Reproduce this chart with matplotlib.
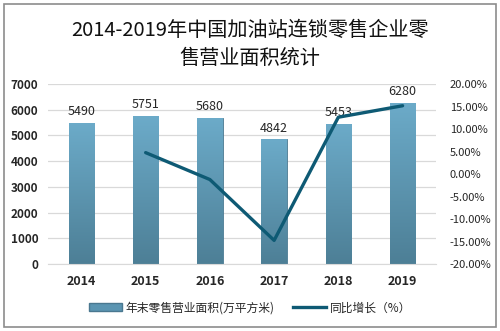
import numpy as np
import matplotlib
matplotlib.use("Agg")
import matplotlib.pyplot as plt
from matplotlib.patches import Rectangle
from matplotlib.lines import Line2D
from matplotlib.colors import LinearSegmentedColormap

plt.rcParams["font.family"] = ["Noto Sans CJK SC", "DejaVu Sans"]

years = ["2014", "2015", "2016", "2017", "2018", "2019"]
area = [5490, 5751, 5680, 4842, 5453, 6280]
growth_years = ["2015", "2016", "2017", "2018", "2019"]
growth = [4.75, -1.23, -14.75, 12.62, 15.17]

bar_label = "年末零售营业面积(万平方米)"
line_label = "同比增长（%）"
title = "2014-2019年中国加油站连锁零售企业零\n售营业面积统计"

bar_top = "#6cabc9"
bar_bottom = "#4d7f96"
line_color = "#0e5a74"
grid_color = "#d9d9d9"
text_color = "#262626"

fig = plt.figure(figsize=(5.0, 3.31), dpi=100)
fig.patch.set_facecolor("white")
fig.add_artist(Rectangle((4 / 500, 4 / 331), 492 / 500, 323 / 331,
                         transform=fig.transFigure, fill=False,
                         edgecolor="#8c8c8c", linewidth=1.2))

ax = fig.add_axes([0.096, 0.2024, 0.776, 0.5438])
x = np.arange(len(years))

# bars with a vertical gradient
cmap = LinearSegmentedColormap.from_list("bar", [bar_bottom, bar_top])
grad = np.linspace(0, 1, 256).reshape(-1, 1)
bars = ax.bar(x, area, width=0.4, color=bar_top, edgecolor="#4a7890",
              linewidth=0.6, zorder=2)
for b in bars:
    x0, w, h = b.get_x(), b.get_width(), b.get_height()
    im = ax.imshow(grad, cmap=cmap, origin="lower", aspect="auto",
                   extent=(x0, x0 + w, 0, h), zorder=2.5)
    im.set_clip_path(b)
    ax.text(x0 + w / 2, h + 180, f"{h:.0f}", ha="center", va="bottom",
            fontsize=9, color=text_color, zorder=4)

ax.set_xlim(-0.52, 5.52)
ax.set_ylim(0, 7000)
ax.set_yticks(range(0, 7001, 1000))
ax.yaxis.grid(True, color=grid_color, linewidth=0.9, zorder=0)
ax.set_axisbelow(True)
ax.set_xticks(x)
ax.set_xticklabels(years, fontweight="bold")
ax.tick_params(axis="x", length=0, pad=8, labelsize=9, labelcolor=text_color)
ax.tick_params(axis="y", length=0, pad=7, labelsize=8.5, labelcolor=text_color)
for lbl in ax.get_yticklabels():
    lbl.set_fontweight("bold")
for s in ["top", "left", "right"]:
    ax.spines[s].set_visible(False)
ax.spines["bottom"].set_color(grid_color)

ax2 = ax.twinx()
gx = [years.index(y) for y in growth_years]
ax2.plot(gx, growth, color=line_color, linewidth=2.4, zorder=5,
         solid_capstyle="round")
ax2.set_ylim(-20, 20)
ax2.set_yticks(range(-20, 21, 5))
ax2.set_yticklabels([f"{v:.2f}%" for v in range(-20, 21, 5)])
ax2.tick_params(axis="y", length=0, pad=10, labelsize=8, labelcolor=text_color)
for s in ["top", "left", "right", "bottom"]:
    ax2.spines[s].set_visible(False)

fig.text(0.5, 0.865, title, ha="center", va="center", fontsize=14.5,
         color="#111111", linespacing=1.45)

handles = [Rectangle((0, 0), 1, 1, facecolor="#5b95b2", edgecolor="#4a7890"),
           Line2D([0], [0], color=line_color, linewidth=2.4)]
fig.legend(handles, [bar_label, line_label], loc="center",
           bbox_to_anchor=(0.5, 0.07), ncol=2, frameon=False, fontsize=8.5,
           handlelength=2.8, handleheight=0.6, columnspacing=1.6,
           handletextpad=0.3, labelcolor=text_color)

fig.savefig("out.png", dpi=100)
